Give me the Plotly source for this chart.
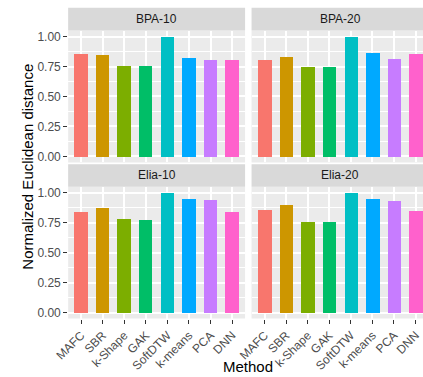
import plotly.graph_objects as go

methods = ["MAFC", "SBR", "k-Shape", "GAK", "SoftDTW", "k-means", "PCA", "DNN"]
colors = ["#F8766D", "#CD9600", "#7CAE00", "#00BE67", "#00BFC4", "#00A9FF", "#C77CFF", "#FF61CC"]
panels = ["BPA-10", "BPA-20", "Elia-10", "Elia-20"]
bpa10 = [0.859, 0.848, 0.757, 0.757, 1.0, 0.823, 0.807, 0.807]
bpa20 = [0.807, 0.832, 0.749, 0.749, 1.0, 0.865, 0.815, 0.859]
elia10 = [0.840, 0.873, 0.782, 0.774, 1.0, 0.948, 0.940, 0.840]
elia20 = [0.857, 0.898, 0.757, 0.757, 1.0, 0.948, 0.931, 0.848]
values = [bpa10, bpa20, elia10, elia20]
y_ticks = [0, 0.25, 0.5, 0.75, 1.0]

W, H = 423, 377
FONT = "Liberation Sans, Arial, sans-serif"

def px_x(p):
    return p / W

def px_y(p):
    return 1 - p / H

col_dom = [(56, 239), (245.7, 423)]
row_dom = [(29.7, 162.3), (186.7, 319.3)]
strip_rows = [(6.7, 29.7), (164, 186.7)]
x_ranges = [[-0.6, 7.6], [-0.6, 7.344]]

fig = go.Figure()
shapes = []
annotations = []
for i, name in enumerate(panels):
    r, c = divmod(i, 2)
    ax = "" if i == 0 else str(i + 1)
    fig.add_trace(go.Bar(
        x=methods, y=values[i], marker=dict(color=colors, line=dict(width=0)),
        width=0.62, xaxis="x" + ax, yaxis="y" + ax, showlegend=False,
        hoverinfo="x+y"))
    xd = [px_x(col_dom[c][0]), px_x(col_dom[c][1])]
    yd = [px_y(row_dom[r][1]), px_y(row_dom[r][0])]
    fig.layout["xaxis" + ax] = dict(
        domain=xd, anchor="y" + ax, type="category", range=x_ranges[c],
        showgrid=True, gridcolor="white", gridwidth=1.8, zeroline=False,
        showline=False, showticklabels=(r == 1), ticks="outside" if r == 1 else "",
        ticklen=4, tickwidth=1, tickcolor="#333333", tickangle=-45,
        tickfont=dict(family=FONT, size=12, color="#4D4D4D"), fixedrange=True)
    fig.layout["yaxis" + ax] = dict(
        domain=yd, anchor="x" + ax, range=[-0.05, 1.05],
        tickvals=y_ticks, ticktext=["%.2f" % v for v in y_ticks],
        showgrid=True, gridcolor="white", gridwidth=1.8, zeroline=False,
        showline=False, showticklabels=(c == 0), ticks="outside" if c == 0 else "",
        ticklen=4, tickwidth=1, tickcolor="#333333",
        tickfont=dict(family=FONT, size=12, color="#4D4D4D"),
        minor=dict(tickvals=[0.125, 0.375, 0.625, 0.875], showgrid=True,
                   gridcolor="white", gridwidth=0.8, ticks=""),
        fixedrange=True)
    shapes.append(dict(type="rect", xref="paper", yref="paper", layer="below",
                       x0=xd[0], x1=xd[1], y0=yd[0], y1=yd[1],
                       fillcolor="#EBEBEB", line=dict(width=0)))
    sy0, sy1 = px_y(strip_rows[r][1]), px_y(strip_rows[r][0])
    shapes.append(dict(type="rect", xref="paper", yref="paper", layer="below",
                       x0=xd[0], x1=xd[1] if c == 0 else 1.0, y0=sy0, y1=sy1,
                       fillcolor="#D9D9D9", line=dict(width=0)))
    cx = (col_dom[c][0] + col_dom[c][0] + 183) / 2 / W
    annotations.append(dict(text=name, xref="paper", yref="paper", x=cx,
                            y=(sy0 + sy1) / 2, showarrow=False,
                            xanchor="center", yanchor="middle",
                            font=dict(family=FONT, size=12, color="#1A1A1A")))

annotations.append(dict(text="Method", xref="paper", yref="paper",
                        x=px_x(242), y=0, showarrow=False, borderpad=0,
                        xanchor="center", yanchor="bottom",
                        font=dict(family=FONT, size=15, color="black")))
annotations.append(dict(text="Normalized Euclidean distance", xref="paper", yref="paper",
                        x=px_x(14), y=px_y(167), showarrow=False, textangle=-90,
                        xanchor="center", yanchor="middle",
                        font=dict(family=FONT, size=15, color="black")))

fig.update_layout(
    width=W, height=H, margin=dict(l=0, r=0, t=0, b=0),
    paper_bgcolor="white", plot_bgcolor="rgba(0,0,0,0)",
    shapes=shapes, annotations=annotations, bargap=0,
    font=dict(family=FONT), showlegend=False)

fig.write_html("out.html", config={"displayModeBar": False})
